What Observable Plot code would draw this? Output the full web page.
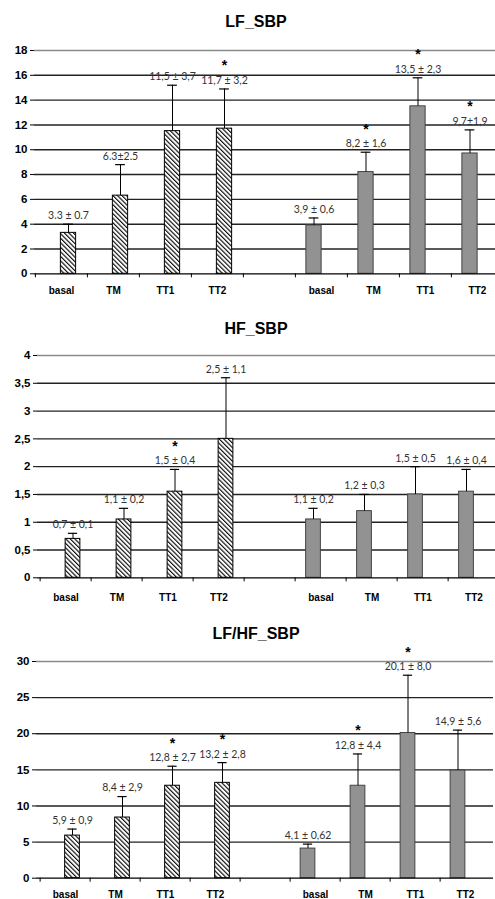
<!DOCTYPE html>
<html><head><meta charset="utf-8">
<script src="https://cdn.jsdelivr.net/npm/d3@7"></script>
<script src="https://cdn.jsdelivr.net/npm/@observablehq/plot@0.6"></script>
<style>
html,body{margin:0;padding:0;background:#fff;}
body{overflow:hidden;width:495px;height:899px;position:relative;font-family:"Liberation Sans",Arial,sans-serif;}
.title{position:absolute;font:bold 16px/16px "Liberation Sans",Arial,sans-serif;transform:translateX(-50%);white-space:nowrap;color:#000;}
.panel{position:absolute;left:0;}
.panel svg{display:block;overflow:visible;}
</style></head><body>
<svg width="0" height="0" style="position:absolute;left:0;top:0">
<defs>
<pattern id="hatch" width="3.2" height="3.2" patternUnits="userSpaceOnUse" patternTransform="rotate(-45)">
<rect width="3.2" height="3.2" fill="#fff"/>
<line x1="0.6" y1="0" x2="0.6" y2="3.2" stroke="#000" stroke-width="1.1"/>
</pattern>
<pattern id="checker" width="2" height="2" patternUnits="userSpaceOnUse">
<rect width="2" height="2" fill="#fafafa"/>
<rect width="1" height="1" fill="#2a2a2a"/>
<rect x="1" y="1" width="1" height="1" fill="#2a2a2a"/>
</pattern>
</defs></svg>
<script>
// ---- data ----
const categories = ["basal", "TM", "TT1", "TT2"];

// LF_SBP
const lfLeftMean = [3.3, 6.3, 11.5, 11.7];
const lfLeftSd = [0.7, 2.5, 3.7, 3.2];
const lfLeftLabels = ["3.3 ± 0.7", "6.3±2.5", "11,5 ± 3,7", "11,7 ± 3,2"];
const lfLeftStar = [0, 0, 0, 1];
const lfRightMean = [3.9, 8.2, 13.5, 9.7];
const lfRightSd = [0.6, 1.6, 2.3, 1.9];
const lfRightLabels = ["3,9 ± 0,6", "8,2 ± 1,6", "13,5 ± 2,3", "9,7±1,9"];
const lfRightStar = [0, 1, 1, 1];

// HF_SBP
const hfLeftMean = [0.7, 1.05, 1.55, 2.5];
const hfLeftSd = [0.1, 0.2, 0.4, 1.1];
const hfLeftLabels = ["0,7 ± 0,1", "1,1 ± 0,2", "1,5 ± 0,4", "2,5 ± 1,1"];
const hfLeftStar = [0, 0, 1, 0];
const hfRightMean = [1.05, 1.2, 1.5, 1.55];
const hfRightSd = [0.2, 0.3, 0.5, 0.4];
const hfRightLabels = ["1,1 ± 0,2", "1,2 ± 0,3", "1,5 ± 0,5", "1,6 ± 0,4"];
const hfRightStar = [0, 0, 0, 0];

// LF/HF_SBP
const ratioLeftMean = [5.9, 8.4, 12.8, 13.2];
const ratioLeftSd = [0.9, 2.9, 2.7, 2.8];
const ratioLeftLabels = ["5,9 ± 0,9", "8,4 ± 2,9", "12,8 ± 2,7", "13,2 ± 2,8"];
const ratioLeftStar = [0, 0, 1, 1];
const ratioRightMean = [4.1, 12.8, 20.1, 14.9];
const ratioRightSd = [0.62, 4.4, 8.0, 5.6];
const ratioRightLabels = ["4,1 ± 0,62", "12,8 ± 4,4", "20,1 ± 8,0", "14,9 ± 5,6"];
const ratioRightStar = [0, 1, 1, 0];

const slots = ["L-basal", "L-TM", "L-TT1", "L-TT2", "gap", "R-basal", "R-TM", "R-TT1", "R-TT2"];

function rows(side, means, sds, labels, stars) {
  return categories.map((c, i) => ({
    key: side + "-" + c, mean: means[i], sd: sds[i], top: means[i] + sds[i],
    label: labels[i], star: stars[i]
  }));
}

function panel(cfg) {
  const {title, titleTop, top, height, marginTop, marginBottom, marginLeft, xEnd, gridEnd, yMax, yStep, left, right, labelPad} = cfg;
  const width = 495;
  const bw = (xEnd - marginLeft) / slots.length;
  const barW = 15.5, capW = 10;
  const inset = (bw - barW) / 2, capInset = (bw - capW) / 2;
  const ticks = d3.range(0, yMax + yStep / 2, yStep);
  const fmt = d => String(+d.toFixed(2)).replace(".", ",");
  const groups = [
    {data: left, fill: "url(#hatch)", stroke: "#000", dx: 7},
    {data: right, fill: "url(#checker)", stroke: "#444", dx: -7.5}
  ];
  const marks = [
    Plot.ruleY(ticks.filter(t => t > 0 && t < yMax - 1e-9), {y: d => d, stroke: "#222", strokeWidth: 1.4}),
    Plot.ruleY([yMax], {stroke: "#8a8a8a", strokeWidth: 1.6})
  ];
  for (const g of groups) {
    marks.push(
      Plot.barY(g.data, {x: "key", y: "mean", dx: g.dx, insetLeft: inset, insetRight: inset, fill: g.fill, stroke: g.stroke, strokeWidth: 1}),
      Plot.ruleX(g.data, {x: "key", y1: "mean", y2: "top", dx: g.dx, stroke: "#000", strokeWidth: 1}),
      Plot.tickY(g.data, {x: "key", y: "top", dx: g.dx, insetLeft: capInset, insetRight: capInset, stroke: "#000", strokeWidth: 1.2}),
      Plot.text(g.data, {x: "key", y: "top", text: "label", dx: g.dx, dy: -8.5, fontFamily: "Lato", fontSize: 10.5, fill: "#333"}),
      Plot.text(g.data.filter(d => d.star), {x: "key", y: "top", text: () => "*", dx: g.dx, dy: -23, fontFamily: "Liberation Sans", fontWeight: "bold", fontSize: 14, fill: "#000"})
    );
  }
  marks.push(
    Plot.ruleY([0], {stroke: "#000", strokeWidth: 1.2}),
    Plot.axisY({ticks, tickFormat: fmt, tickSize: 4, tickPadding: 3, line: true, label: null, stroke: "#000", fill: "#000", fontSize: 11.5, fontWeight: "bold", fontFamily: "Liberation Sans"}),
    Plot.axisX({ticks: slots, tickFormat: () => "", tickSize: 4, dx: -bw / 2, label: null, stroke: "#000"}),
    Plot.axisX({ticks: slots, tickSize: 0, tickPadding: labelPad, label: null, tickFormat: d => d === "gap" ? "" : d.slice(2), fill: "#000", fontSize: 10, fontWeight: "bold", fontFamily: "Liberation Sans"})
  );
  const svg = Plot.plot({
    width, height, marginTop, marginBottom, marginLeft, marginRight: width - gridEnd,
    x: {type: "band", domain: slots, range: [marginLeft, xEnd], padding: 0, label: null},
    y: {domain: [0, yMax], label: null},
    style: {background: "transparent", color: "#000"},
    marks
  });
  const div = document.createElement("div");
  div.className = "panel";
  div.style.top = top + "px";
  div.appendChild(svg);
  document.body.appendChild(div);
  const t = document.createElement("div");
  t.className = "title";
  t.textContent = title;
  t.style.left = "256px";
  t.style.top = titleTop + "px";
  document.body.appendChild(t);
}

panel({title: "LF_SBP", titleTop: 13.7, top: 0, height: 300, marginTop: 50, marginBottom: 26.7, marginLeft: 34, xEnd: 504.25, gridEnd: 495, yMax: 18, yStep: 2,
  left: rows("L", lfLeftMean, lfLeftSd, lfLeftLabels, lfLeftStar), right: rows("R", lfRightMean, lfRightSd, lfRightLabels, lfRightStar), labelPad: 13});
panel({title: "HF_SBP", titleTop: 321.2, top: 300, height: 305, marginTop: 55, marginBottom: 27.7, marginLeft: 37, xEnd: 502.75, gridEnd: 495, yMax: 4, yStep: 0.5,
  left: rows("L", hfLeftMean, hfLeftSd, hfLeftLabels, hfLeftStar), right: rows("R", hfRightMean, hfRightSd, hfRightLabels, hfRightStar), labelPad: 16});
panel({title: "LF/HF_SBP", titleTop: 625.7, top: 605, height: 294, marginTop: 56, marginBottom: 21.3, marginLeft: 36, xEnd: 493, gridEnd: 493, yMax: 30, yStep: 5,
  left: rows("L", ratioLeftMean, ratioLeftSd, ratioLeftLabels, ratioLeftStar), right: rows("R", ratioRightMean, ratioRightSd, ratioRightLabels, ratioRightStar), labelPad: 12.8});
</script>
</body></html>
